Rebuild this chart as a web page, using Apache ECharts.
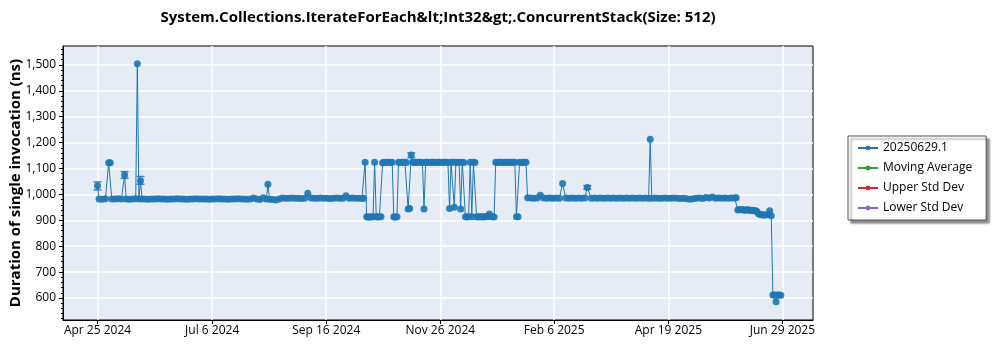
<!DOCTYPE html>
<html><head><meta charset="utf-8">
<script src="https://cdn.jsdelivr.net/npm/echarts@6/dist/echarts.min.js"></script>
<style>html,body{margin:0;padding:0;background:#fff}#c{width:1000px;height:350px}</style>
</head><body><div id="c"></div>
<script>
// ---- data (x = days since Apr 25 2024, y = ns) ----
const titleText = 'System.Collections.IterateForEach&lt;Int32&gt;.ConcurrentStack(Size: 512)';
const yAxisTitle = 'Duration of single invocation (ns)';
const seriesNames = ['20250629.1', 'Moving Average', 'Upper Std Dev', 'Lower Std Dev'];
const tickDays = [0, 72, 143.6, 215.2, 286.7, 358.4, 430];
const tickLabels = ['Apr 25 2024', 'Jul 6 2024', 'Sep 16 2024', 'Nov 26 2024', 'Feb 6 2025', 'Apr 19 2025', 'Jun 29 2025'];
const yTicks = [600, 700, 800, 900, 1000, 1100, 1200, 1300, 1400, 1500];

const phase1 = [[0,1033],[1,982],[3,981],[5,983],[7,1122],[8,1122],[9,982],[11,982],[13,983],[15,982],[17,1075],[18,982],[20,981],[22,982],[24,983],[25,1504],[26,982],[27,1053],[28,982],[30,982],[32,981],[34,982],[36,982],[38,983],[40,982],[42,982],[44,981],[46,982],[48,982],[50,983],[52,982],[54,982],[56,981],[58,982],[60,982],[62,983],[64,982],[66,982],[68,982],[70,981],[72,982],[74,982],[76,983],[78,982],[80,982],[82,981],[84,982],[86,982],[88,983],[90,982],[92,982],[94,981],[96,982],[98,986],[100,982],[102,980],[104,987],[106,982],[107,1039],[108,981],[110,980],[112,978],[114,982],[116,986],[118,985],[120,985],[122,986],[124,985],[126,985],[128,984],[130,985],[132,1004],[134,986],[136,985],[138,985],[140,986],[142,985],[144,985],[146,984],[148,985],[150,986],[152,985],[154,985],[156,995],[158,985],[160,986],[162,985],[164,985],[166,984],[167,985]];
const phase2 = [[168,1124],[169,914],[170,912],[171,914],[172,913],[173,914],[174,1124],[175,914],[176,913],[177,914],[178,914],[179,1122],[180,1124],[181,1123],[182,1124],[183,1124],[184,1123],[185,1124],[186,914],[187,912],[188,914],[189,1124],[190,1123],[191,1124],[192,1124],[193,1124],[194,1123],[195,944],[196,946],[197,1152],[198,1124],[199,1124],[200,1123],[201,1124],[202,1124],[203,1124],[204,1123],[205,944],[206,1124],[207,1124],[208,1123],[209,1124],[210,1124],[211,1124],[212,1123],[213,1124],[214,1124],[215,1124],[216,1123],[217,1124],[218,1124],[219,1124],[220,1123],[221,946],[222,1124],[223,1124],[224,950],[225,1124],[226,1123],[227,1124],[228,944],[229,1124],[230,1123],[231,914],[232,913],[233,914],[234,1124],[235,914],[236,1124],[237,1123],[238,914],[239,913],[240,914],[241,914],[242,913],[243,914],[244,914],[245,916],[246,924],[247,915],[248,914],[249,913],[250,1124],[251,1123],[252,1124],[253,1124],[254,1124],[255,1123],[256,1124],[257,1124],[258,1124],[259,1123],[260,1124],[261,1124],[262,1124],[263,914],[264,914],[265,1124],[266,1123],[267,1124],[268,1124],[269,1124]];
const phase3 = [[270,987],[272,986],[274,985],[276,986],[278,997],[280,986],[282,985],[284,986],[286,985],[288,986],[290,985],[292,1042],[294,986],[296,985],[298,986],[300,985],[302,986],[304,985],[306,986],[307.5,1027],[310,985],[312,986],[314,985],[316,986],[318,985],[320,986],[322,985],[324,986],[326,985],[328,986],[330,985],[332,986],[334,985],[336,986],[338,985],[340,986],[342,985],[344,986],[346,985],[347,1213],[348,985],[350,986],[352,985],[354,985],[356,986],[358,985],[360,985],[362,986],[364,985],[366,984],[368,985],[370,983],[372,981],[374,983],[376,985],[378,986],[380,984],[382,988],[384,986],[386,990],[388,985],[390,986],[392,985],[394,986],[396,985],[398,986],[400,986],[401,987]];
const phase4 = [[402,940],[403,942],[404,941],[405,942],[406,939],[407,940],[408,941],[409,940],[410,938],[411,939],[412,937],[413,938],[414,934],[415,925],[416,922],[417,921],[418,920],[419,920],[420,921],[421,922],[422,937],[423,918],[424,612],[425,612],[426,585],[427,612],[428,612],[429,611]];
const errorBars = [[0,1017,1048],[17,1062,1088],[27,1039,1069],[197,1142,1160],[307.5,1020,1034]];

const mainData = phase1.concat(phase2, phase3, phase4);
const minorTicks = [];
for (let v = 520; v <= 1560; v += 20) if (v % 100 !== 0) minorTicks.push(v);

const FONT = 'Open Sans';
const BLUE = '#1f77b4';
const chart = echarts.init(document.getElementById('c'), null, {renderer: 'canvas'});
chart.setOption({
  animation: false,
  backgroundColor: '#ffffff',
  textStyle: {fontFamily: FONT},
  title: {
    text: titleText, left: 438, top: 10, textAlign: 'center', padding: 0,
    textStyle: {fontFamily: FONT, fontSize: 15, fontWeight: 'bold', color: '#000'}
  },
  grid: {left: 63, right: 187, top: 46, bottom: 30, show: true, backgroundColor: '#e5ecf6',
         borderColor: '#000', borderWidth: 1, containLabel: false, outerBoundsMode: 'none'},
  legend: {
    orient: 'vertical', left: 848, top: 136, padding: [6, 14, 6, 9],
    data: seriesNames, itemWidth: 20, itemHeight: 6, itemGap: 8,
    backgroundColor: '#fff', borderColor: '#555', borderWidth: 1,
    shadowColor: 'rgba(0,0,0,0.45)', shadowBlur: 2, shadowOffsetX: 3, shadowOffsetY: 3,
    textStyle: {fontFamily: FONT, fontSize: 12, color: '#000'}
  },
  xAxis: {
    type: 'value', min: -21.66, max: 449.2,
    axisLine: {show: true, onZero: false, lineStyle: {color: '#000'}},
    axisTick: {show: true, length: 4, inside: false, customValues: tickDays, lineStyle: {color: '#000'}},
    axisLabel: {customValues: tickDays, margin: 5, fontFamily: FONT, fontSize: 12, color: '#000',
      formatter: v => { const i = tickDays.indexOf(v); return i >= 0 ? tickLabels[i] : ''; }},
    splitLine: {show: true, lineStyle: {color: '#ffffff', width: 1.5}},
    minorTick: {show: false}
  },
  yAxis: [{
    type: 'value', min: 515, max: 1573, position: 'left',
    name: yAxisTitle, nameLocation: 'middle', nameGap: 40, nameMoveOverlap: false,
    nameTextStyle: {fontFamily: FONT, fontSize: 15, fontWeight: 'bold', color: '#000'},
    axisLine: {show: true, onZero: false, lineStyle: {color: '#000'}},
    axisTick: {show: true, length: 4, customValues: yTicks, lineStyle: {color: '#000'}},
    axisLabel: {customValues: yTicks, margin: 7, fontFamily: FONT, fontSize: 12, color: '#000',
      formatter: v => v.toLocaleString('en-US')},
    splitLine: {show: true, lineStyle: {color: '#ffffff', width: 1.5}}
  }, {
    type: 'value', min: 515, max: 1573, position: 'left', offset: 0,
    axisLine: {show: false, onZero: false},
    axisTick: {show: true, length: 2, customValues: minorTicks, lineStyle: {color: '#000'}},
    axisLabel: {show: false}, splitLine: {show: false}
  }],
  series: [{
    name: seriesNames[0], type: 'line', data: mainData, symbol: 'circle', symbolSize: 7,
    showAllSymbol: true, color: BLUE,
    itemStyle: {color: BLUE, opacity: 0.9}, lineStyle: {color: BLUE, width: 1}, z: 3
  }, {
    type: 'custom', name: 'err', data: errorBars, z: 4,
    encode: {x: 0, y: [1, 2]},
    renderItem: (params, api) => {
      const lo = api.coord([api.value(0), api.value(1)]);
      const hi = api.coord([api.value(0), api.value(2)]);
      const w = 4; const st = {stroke: BLUE, lineWidth: 1.5, opacity: 0.85};
      return {type: 'group', children: [
        {type: 'line', shape: {x1: lo[0], y1: lo[1], x2: hi[0], y2: hi[1]}, style: st},
        {type: 'line', shape: {x1: hi[0] - w, y1: hi[1], x2: hi[0] + w, y2: hi[1]}, style: st},
        {type: 'line', shape: {x1: lo[0] - w, y1: lo[1], x2: lo[0] + w, y2: lo[1]}, style: st}
      ]};
    }
  }, {
    name: seriesNames[1], type: 'line', data: [], symbol: 'circle', color: '#2ca02c',
    itemStyle: {color: '#2ca02c'}, lineStyle: {color: '#2ca02c', width: 1}
  }, {
    name: seriesNames[2], type: 'line', data: [], symbol: 'circle', color: '#d62728',
    itemStyle: {color: '#d62728'}, lineStyle: {color: '#d62728', width: 1}
  }, {
    name: seriesNames[3], type: 'line', data: [], symbol: 'circle', color: '#9467bd',
    itemStyle: {color: '#9467bd'}, lineStyle: {color: '#9467bd', width: 1}
  }]
});
</script></body></html>
